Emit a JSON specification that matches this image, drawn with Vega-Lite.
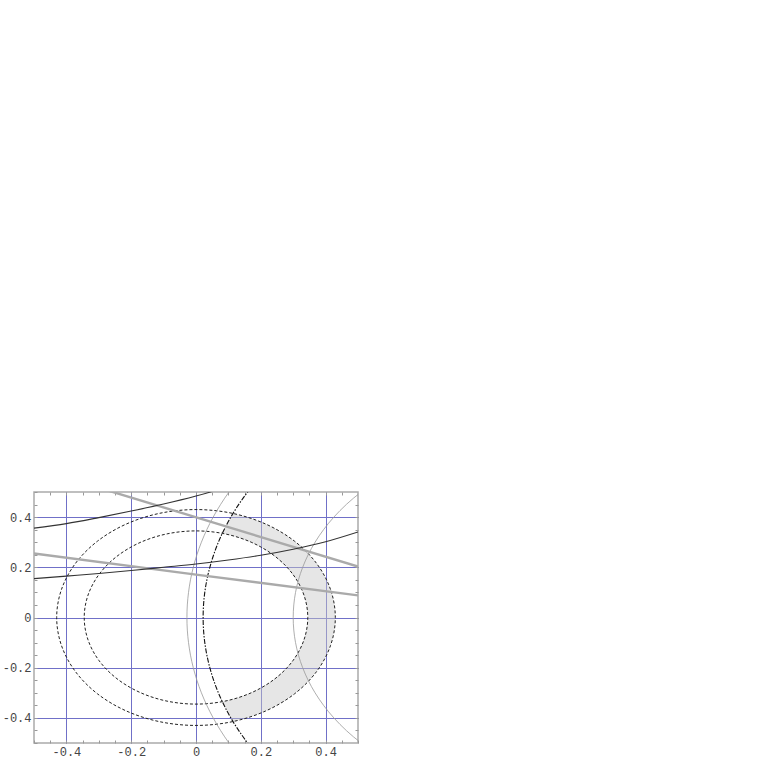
{
  "$schema": "https://vega.github.io/schema/vega-lite/v6.json",
  "autosize": {"type": "none"},
  "padding": {"left": 34, "top": 492, "right": 20, "bottom": 20},
  "width": 324,
  "height": 251,
  "background": "white",
  "config": {
    "view": {"stroke": "#aaaaaa", "strokeWidth": 1.5},
    "axis": {"labelFont": "Liberation Mono", "labelFontSize": 12, "labelColor": "#444444", "domain": false, "title": null}
  },
  "resolve": {"axis": {"x": "independent", "y": "independent"}},
  "datasets": {
    "shade": [
      {"y": -0.4146, "xl": 0.1142, "xr": 0.1142},
      {"y": -0.4, "xl": 0.1075, "xr": 0.1578},
      {"y": -0.38, "xl": 0.0988, "xr": 0.2012},
      {"y": -0.36, "xl": 0.0907, "xr": 0.2352},
      {"y": -0.3353, "xl": 0.0812, "xr": 0.2693},
      {"y": -0.33, "xl": 0.1005, "xr": 0.2757},
      {"y": -0.32, "xl": 0.1288, "xr": 0.2872},
      {"y": -0.3, "xl": 0.1703, "xr": 0.3081},
      {"y": -0.28, "xl": 0.2015, "xr": 0.3263},
      {"y": -0.25, "xl": 0.2377, "xr": 0.3499},
      {"y": -0.2, "xl": 0.2811, "xr": 0.3807},
      {"y": -0.15, "xl": 0.3106, "xr": 0.403},
      {"y": -0.1, "xl": 0.3302, "xr": 0.4182},
      {"y": -0.05, "xl": 0.3413, "xr": 0.4271},
      {"y": 0, "xl": 0.345, "xr": 0.43},
      {"y": 0.05, "xl": 0.3413, "xr": 0.4271},
      {"y": 0.1, "xl": 0.3302, "xr": 0.4182},
      {"y": 0.15, "xl": 0.3106, "xr": 0.403},
      {"y": 0.2, "xl": 0.2811, "xr": 0.3807},
      {"y": 0.25, "xl": 0.2377, "xr": 0.3499},
      {"y": 0.28, "xl": 0.2015, "xr": 0.3263},
      {"y": 0.3, "xl": 0.1703, "xr": 0.3081},
      {"y": 0.32, "xl": 0.1288, "xr": 0.2872},
      {"y": 0.33, "xl": 0.1005, "xr": 0.2757},
      {"y": 0.3353, "xl": 0.0812, "xr": 0.2693},
      {"y": 0.36, "xl": 0.0907, "xr": 0.2352},
      {"y": 0.38, "xl": 0.0988, "xr": 0.2012},
      {"y": 0.4, "xl": 0.1075, "xr": 0.1578},
      {"y": 0.4146, "xl": 0.1142, "xr": 0.1142}
    ],
    "outer": [
      {"i": 0, "x": 0.43, "y": 0}, {"i": 1, "x": 0.4153, "y": 0.1113}, {"i": 2, "x": 0.3724, "y": 0.215},
      {"i": 3, "x": 0.3041, "y": 0.3041}, {"i": 4, "x": 0.215, "y": 0.3724}, {"i": 5, "x": 0.1113, "y": 0.4153},
      {"i": 6, "x": 0, "y": 0.43}, {"i": 7, "x": -0.1113, "y": 0.4153}, {"i": 8, "x": -0.215, "y": 0.3724},
      {"i": 9, "x": -0.3041, "y": 0.3041}, {"i": 10, "x": -0.3724, "y": 0.215}, {"i": 11, "x": -0.4153, "y": 0.1113},
      {"i": 12, "x": -0.43, "y": 0}, {"i": 13, "x": -0.4153, "y": -0.1113}, {"i": 14, "x": -0.3724, "y": -0.215},
      {"i": 15, "x": -0.3041, "y": -0.3041}, {"i": 16, "x": -0.215, "y": -0.3724}, {"i": 17, "x": -0.1113, "y": -0.4153},
      {"i": 18, "x": 0, "y": -0.43}, {"i": 19, "x": 0.1113, "y": -0.4153}, {"i": 20, "x": 0.215, "y": -0.3724},
      {"i": 21, "x": 0.3041, "y": -0.3041}, {"i": 22, "x": 0.3724, "y": -0.215}, {"i": 23, "x": 0.4153, "y": -0.1113}
    ],
    "inner": [
      {"i": 0, "x": 0.345, "y": 0}, {"i": 1, "x": 0.3332, "y": 0.0893}, {"i": 2, "x": 0.2988, "y": 0.1725},
      {"i": 3, "x": 0.2439, "y": 0.2439}, {"i": 4, "x": 0.1725, "y": 0.2988}, {"i": 5, "x": 0.0893, "y": 0.3332},
      {"i": 6, "x": 0, "y": 0.345}, {"i": 7, "x": -0.0893, "y": 0.3332}, {"i": 8, "x": -0.1725, "y": 0.2988},
      {"i": 9, "x": -0.2439, "y": 0.2439}, {"i": 10, "x": -0.2988, "y": 0.1725}, {"i": 11, "x": -0.3332, "y": 0.0893},
      {"i": 12, "x": -0.345, "y": 0}, {"i": 13, "x": -0.3332, "y": -0.0893}, {"i": 14, "x": -0.2988, "y": -0.1725},
      {"i": 15, "x": -0.2439, "y": -0.2439}, {"i": 16, "x": -0.1725, "y": -0.2988}, {"i": 17, "x": -0.0893, "y": -0.3332},
      {"i": 18, "x": 0, "y": -0.345}, {"i": 19, "x": 0.0893, "y": -0.3332}, {"i": 20, "x": 0.1725, "y": -0.2988},
      {"i": 21, "x": 0.2439, "y": -0.2439}, {"i": 22, "x": 0.2988, "y": -0.1725}, {"i": 23, "x": 0.3332, "y": -0.0893}
    ],
    "dd": [
      {"y": -0.6, "x": 0.2277}, {"y": -0.5, "x": 0.1595}, {"y": -0.4, "x": 0.1075}, {"y": -0.3, "x": 0.0691},
      {"y": -0.2, "x": 0.0427}, {"y": -0.1, "x": 0.0271}, {"y": 0, "x": 0.022}, {"y": 0.1, "x": 0.0271},
      {"y": 0.2, "x": 0.0427}, {"y": 0.3, "x": 0.0691}, {"y": 0.4, "x": 0.1075}, {"y": 0.5, "x": 0.1595}, {"y": 0.6, "x": 0.2277}
    ],
    "g1": [
      {"y": -0.6, "x": 0.1653}, {"y": -0.5, "x": 0.1018}, {"y": -0.4, "x": 0.053}, {"y": -0.3, "x": 0.0167},
      {"y": -0.2, "x": -0.0084}, {"y": -0.1, "x": -0.0231}, {"y": 0, "x": -0.028}, {"y": 0.1, "x": -0.0231},
      {"y": 0.2, "x": -0.0084}, {"y": 0.3, "x": 0.0167}, {"y": 0.4, "x": 0.053}, {"y": 0.5, "x": 0.1018}, {"y": 0.6, "x": 0.1653}
    ],
    "g2": [
      {"y": -0.6, "x": 0.6394}, {"y": -0.5, "x": 0.5101}, {"y": -0.4, "x": 0.4255}, {"y": -0.3, "x": 0.3675},
      {"y": -0.2, "x": 0.3292}, {"y": -0.1, "x": 0.3072}, {"y": 0, "x": 0.3}, {"y": 0.1, "x": 0.3072},
      {"y": 0.2, "x": 0.3292}, {"y": 0.3, "x": 0.3675}, {"y": 0.4, "x": 0.4255}, {"y": 0.5, "x": 0.5101}, {"y": 0.6, "x": 0.6394}
    ],
    "b1": [
      {"x": -0.5, "y": 0.356}, {"x": -0.4, "y": 0.374}, {"x": -0.3, "y": 0.398}, {"x": -0.2, "y": 0.424},
      {"x": -0.1, "y": 0.452}, {"x": 0, "y": 0.484}, {"x": 0.05, "y": 0.502}, {"x": 0.1, "y": 0.522}
    ],
    "b2": [
      {"x": -0.5, "y": 0.155}, {"x": -0.4, "y": 0.165}, {"x": -0.3, "y": 0.175}, {"x": -0.2, "y": 0.187},
      {"x": -0.1, "y": 0.2}, {"x": 0, "y": 0.213}, {"x": 0.1, "y": 0.229}, {"x": 0.2, "y": 0.248},
      {"x": 0.3, "y": 0.272}, {"x": 0.4, "y": 0.302}, {"x": 0.5, "y": 0.341}
    ],
    "g3": [{"x": -0.3, "y": 0.517}, {"x": 0.1, "y": 0.36}, {"x": 0.5, "y": 0.203}],
    "g4": [{"x": -0.5, "y": 0.255}, {"x": 0, "y": 0.171}, {"x": 0.5, "y": 0.088}]
  },
  "layer": [
    {
      "data": {"name": "shade"},
      "mark": {"type": "area", "orient": "horizontal", "color": "#c8c8c8", "opacity": 0.45, "clip": true},
      "encoding": {
        "y": {"field": "y", "type": "quantitative", "scale": {"domain": [-0.5, 0.5], "nice": false, "zero": false},
          "axis": {"orient": "left", "values": [-0.5,-0.45,-0.4,-0.35,-0.3,-0.25,-0.2,-0.15,-0.1,-0.05,0,0.05,0.1,0.15,0.2,0.25,0.3,0.35,0.4,0.45,0.5],
            "grid": true, "gridColor": "#7070c8", "gridWidth": 1,
            "gridOpacity": {"condition": {"test": "abs(datum.value) == 0.4 || abs(datum.value) == 0.2 || datum.value == 0", "value": 1}, "value": 0},
            "ticks": true, "tickSize": -3, "tickColor": "#999999", "labelPadding": 6, "labelOverlap": false, "labelFlush": false,
            "labelExpr": "(abs(datum.value) == 0.4 || abs(datum.value) == 0.2 || datum.value == 0) ? (datum.value == 0 ? '0' : (datum.value < 0 ? '-' : '') + format(abs(datum.value), '.1f')) : ''"}},
        "x": {"field": "xl", "type": "quantitative", "scale": {"domain": [-0.5, 0.5], "nice": false, "zero": false},
          "axis": {"orient": "bottom", "values": [-0.5,-0.45,-0.4,-0.35,-0.3,-0.25,-0.2,-0.15,-0.1,-0.05,0,0.05,0.1,0.15,0.2,0.25,0.3,0.35,0.4,0.45,0.5],
            "grid": true, "gridColor": "#7070c8", "gridWidth": 1,
            "gridOpacity": {"condition": {"test": "abs(datum.value) == 0.4 || abs(datum.value) == 0.2 || datum.value == 0", "value": 1}, "value": 0},
            "ticks": true, "tickSize": -3, "tickColor": "#999999", "labelPadding": 6, "labelOverlap": false, "labelFlush": false,
            "labelExpr": "(abs(datum.value) == 0.4 || abs(datum.value) == 0.2 || datum.value == 0) ? (datum.value == 0 ? '0' : (datum.value < 0 ? '-' : '') + format(abs(datum.value), '.1f')) : ''"}},
        "x2": {"field": "xr"}
      }
    },
    {
      "data": {"name": "outer"},
      "mark": {"type": "line", "interpolate": "cardinal-closed", "color": "#222222", "strokeWidth": 1, "strokeDash": [3, 2], "clip": true},
      "encoding": {
        "x": {"field": "x", "type": "quantitative", "scale": {"domain": [-0.5, 0.5], "nice": false, "zero": false},
          "axis": {"orient": "top", "values": [-0.45,-0.4,-0.35,-0.3,-0.25,-0.2,-0.15,-0.1,-0.05,0,0.05,0.1,0.15,0.2,0.25,0.3,0.35,0.4,0.45],
            "grid": false, "labels": false, "ticks": true, "tickSize": -3, "tickColor": "#999999"}},
        "y": {"field": "y", "type": "quantitative", "scale": {"domain": [-0.5, 0.5], "nice": false, "zero": false},
          "axis": {"orient": "right", "values": [-0.45,-0.4,-0.35,-0.3,-0.25,-0.2,-0.15,-0.1,-0.05,0,0.05,0.1,0.15,0.2,0.25,0.3,0.35,0.4,0.45],
            "grid": false, "labels": false, "ticks": true, "tickSize": -3, "tickColor": "#999999"}},
        "order": {"field": "i", "type": "quantitative"}
      }
    },
    {
      "data": {"name": "inner"},
      "mark": {"type": "line", "interpolate": "cardinal-closed", "color": "#222222", "strokeWidth": 1, "strokeDash": [3, 2], "clip": true},
      "encoding": {
        "x": {"field": "x", "type": "quantitative", "axis": null},
        "y": {"field": "y", "type": "quantitative", "axis": null},
        "order": {"field": "i", "type": "quantitative"}
      }
    },
    {
      "data": {"name": "g1"},
      "mark": {"type": "line", "interpolate": "catmull-rom", "color": "#999999", "strokeWidth": 0.8, "clip": true},
      "encoding": {
        "x": {"field": "x", "type": "quantitative", "axis": null},
        "y": {"field": "y", "type": "quantitative", "axis": null},
        "order": {"field": "y", "type": "quantitative"}
      }
    },
    {
      "data": {"name": "g2"},
      "mark": {"type": "line", "interpolate": "catmull-rom", "color": "#999999", "strokeWidth": 0.8, "clip": true},
      "encoding": {
        "x": {"field": "x", "type": "quantitative", "axis": null},
        "y": {"field": "y", "type": "quantitative", "axis": null},
        "order": {"field": "y", "type": "quantitative"}
      }
    },
    {
      "data": {"name": "dd"},
      "mark": {"type": "line", "interpolate": "catmull-rom", "color": "#111111", "strokeWidth": 1.1, "strokeDash": [5, 1.5, 1.5, 1.5], "clip": true},
      "encoding": {
        "x": {"field": "x", "type": "quantitative", "axis": null},
        "y": {"field": "y", "type": "quantitative", "axis": null},
        "order": {"field": "y", "type": "quantitative"}
      }
    },
    {
      "data": {"name": "g3"},
      "mark": {"type": "line", "color": "#aaaaaa", "strokeWidth": 2.4, "clip": true},
      "encoding": {
        "x": {"field": "x", "type": "quantitative", "axis": null},
        "y": {"field": "y", "type": "quantitative", "axis": null}
      }
    },
    {
      "data": {"name": "g4"},
      "mark": {"type": "line", "color": "#aaaaaa", "strokeWidth": 2.4, "clip": true},
      "encoding": {
        "x": {"field": "x", "type": "quantitative", "axis": null},
        "y": {"field": "y", "type": "quantitative", "axis": null}
      }
    },
    {
      "data": {"name": "b1"},
      "mark": {"type": "line", "interpolate": "monotone", "color": "#333333", "strokeWidth": 1.1, "clip": true},
      "encoding": {
        "x": {"field": "x", "type": "quantitative", "axis": null},
        "y": {"field": "y", "type": "quantitative", "axis": null}
      }
    },
    {
      "data": {"name": "b2"},
      "mark": {"type": "line", "interpolate": "monotone", "color": "#333333", "strokeWidth": 1.1, "clip": true},
      "encoding": {
        "x": {"field": "x", "type": "quantitative", "axis": null},
        "y": {"field": "y", "type": "quantitative", "axis": null}
      }
    }
  ]
}
